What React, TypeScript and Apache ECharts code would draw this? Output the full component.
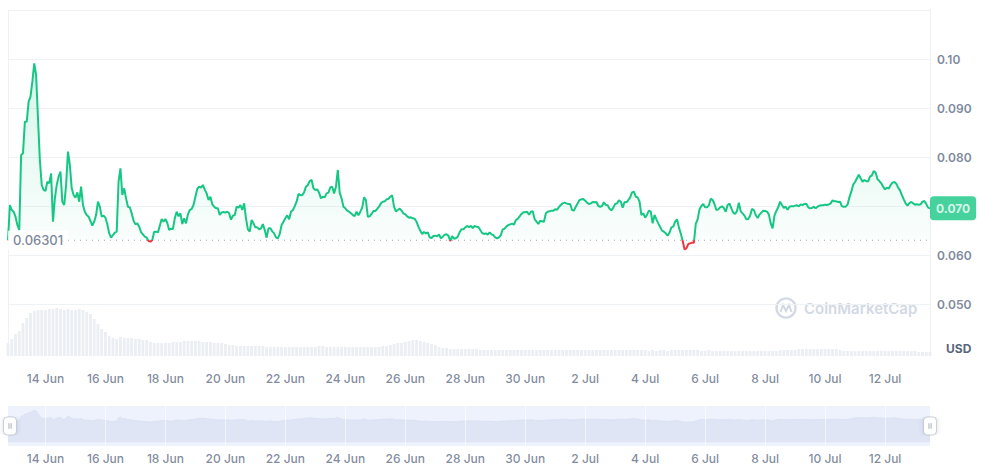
import React, { useEffect, useRef } from "react";
import * as echarts from "echarts";

// ---- data ----
const START = Date.UTC(2023, 5, 12, 18, 0, 0); // 12 Jun 2023 18:00 UTC
const PRICE_STEP = 1.5 * 3600 * 1000; // 90 minutes
const VOLUME_STEP = 3 * 3600 * 1000; // 3 hours
const BASELINE = 0.06301;

const PRICES: number[] = [
  0.06301, 0.0702, 0.06918, 0.06884, 0.06782, 0.06612, 0.0651, 0.08041, 0.08075, 0.08721,
  0.08721, 0.09129, 0.09231, 0.09537, 0.09911, 0.09673, 0.08789, 0.07939, 0.07429, 0.07327,
  0.07307, 0.07497, 0.07463, 0.07667, 0.0668, 0.07156, 0.07429, 0.07599, 0.07701, 0.07088,
  0.0702, 0.07429, 0.08109, 0.07837, 0.07361, 0.07224, 0.0717, 0.07279, 0.07088, 0.07395,
  0.0702, 0.06884, 0.06816, 0.06782, 0.06694, 0.06599, 0.0668, 0.06816, 0.07088, 0.06986,
  0.06782, 0.06802, 0.06762, 0.06626, 0.06442, 0.06354, 0.06408, 0.06456, 0.06476, 0.07497,
  0.07769, 0.07224, 0.07361, 0.07156, 0.06986, 0.06973, 0.0685, 0.06701, 0.06626, 0.06646,
  0.06578, 0.06469, 0.06422, 0.06374, 0.06354, 0.06286, 0.06272, 0.06306, 0.06476, 0.06476,
  0.06462, 0.06599, 0.06734, 0.0668, 0.06734, 0.06653, 0.0651, 0.06537, 0.0653, 0.06748,
  0.06884, 0.06789, 0.0685, 0.06633, 0.06748, 0.06646, 0.0683, 0.06918, 0.06939, 0.0702,
  0.0719, 0.07347, 0.07395, 0.07374, 0.07429, 0.07334, 0.07258, 0.07122, 0.0719, 0.07034,
  0.06986, 0.06952, 0.06952, 0.06816, 0.0687, 0.06877, 0.06864, 0.06884, 0.0685, 0.06721,
  0.06802, 0.06816, 0.06986, 0.06966, 0.0702, 0.06918, 0.07054, 0.06748, 0.06523, 0.06476,
  0.06714, 0.06646, 0.06564, 0.06564, 0.06523, 0.06544, 0.06632, 0.0651, 0.06354, 0.06544,
  0.06544, 0.06483, 0.06442, 0.0636, 0.0634, 0.06429, 0.06612, 0.0668, 0.06748, 0.0681,
  0.06728, 0.06884, 0.06918, 0.06993, 0.07088, 0.07245, 0.07224, 0.07218, 0.07279, 0.07395,
  0.07429, 0.0751, 0.07531, 0.07361, 0.07327, 0.0734, 0.07272, 0.07156, 0.0719, 0.07177,
  0.07258, 0.07272, 0.07381, 0.07395, 0.07258, 0.07395, 0.07735, 0.07272, 0.07156, 0.06986,
  0.06952, 0.06905, 0.06884, 0.0685, 0.06816, 0.06796, 0.06884, 0.0681, 0.06884, 0.06966,
  0.07177, 0.07122, 0.06782, 0.06789, 0.06837, 0.06898, 0.06898, 0.06939, 0.06986, 0.07054,
  0.07088, 0.07095, 0.07136, 0.07143, 0.0719, 0.07218, 0.06986, 0.06891, 0.06918, 0.06946,
  0.06905, 0.0685, 0.0683, 0.06789, 0.06762, 0.06769, 0.06748, 0.06741, 0.0668, 0.06578,
  0.06497, 0.06429, 0.06469, 0.06442, 0.06463, 0.0636, 0.06347, 0.06388, 0.06395, 0.06381,
  0.06422, 0.0634, 0.06374, 0.06415, 0.06422, 0.06395, 0.06285, 0.06388, 0.06333, 0.0634,
  0.06374, 0.06469, 0.06523, 0.06523, 0.06564, 0.06592, 0.06571, 0.06592, 0.06551, 0.06592,
  0.06578, 0.06571, 0.0651, 0.06449, 0.06429, 0.06442, 0.06415, 0.06463, 0.06422, 0.06408,
  0.0636, 0.0634, 0.0636, 0.06408, 0.06523, 0.06537, 0.06585, 0.06612, 0.06626, 0.0664,
  0.06619, 0.06714, 0.06735, 0.06789, 0.06837, 0.06871, 0.06871, 0.06884, 0.06823, 0.06884,
  0.06891, 0.06735, 0.0668, 0.06633, 0.06701, 0.06687, 0.0668, 0.0685, 0.06884, 0.06891,
  0.06905, 0.06905, 0.06932, 0.06925, 0.0698, 0.0702, 0.07054, 0.07068, 0.07054, 0.07041,
  0.07041, 0.06918, 0.06905, 0.06986, 0.07054, 0.07122, 0.07136, 0.07143, 0.07109, 0.07068,
  0.07041, 0.07054, 0.07082, 0.07075, 0.07082, 0.07, 0.06986, 0.07, 0.07075, 0.0702,
  0.07014, 0.06946, 0.06912, 0.06966, 0.07041, 0.07054, 0.07116, 0.07088, 0.06966, 0.07082,
  0.07075, 0.07122, 0.07177, 0.07279, 0.07293, 0.0719, 0.07177, 0.07088, 0.06816, 0.0685,
  0.06762, 0.06823, 0.06905, 0.06884, 0.06646, 0.06816, 0.06728, 0.06646, 0.06571, 0.06497,
  0.06476, 0.06442, 0.06395, 0.06456, 0.06564, 0.06578, 0.0668, 0.06728, 0.06564, 0.06442,
  0.06292, 0.06116, 0.06136, 0.06224, 0.06238, 0.06252, 0.0625, 0.06633, 0.06728, 0.06932,
  0.07, 0.07041, 0.06973, 0.06973, 0.07014, 0.0715, 0.07122, 0.07041, 0.06918, 0.06932,
  0.06973, 0.06993, 0.06959, 0.06884, 0.0702, 0.07048, 0.06952, 0.06864, 0.06837, 0.06898,
  0.07068, 0.06891, 0.0685, 0.06803, 0.06728, 0.06735, 0.06803, 0.06939, 0.06918, 0.06816,
  0.06755, 0.06823, 0.06864, 0.06905, 0.06898, 0.06884, 0.0683, 0.06646, 0.06544, 0.06803,
  0.06898, 0.06973, 0.07088, 0.0702, 0.06959, 0.06986, 0.06925, 0.06986, 0.06993, 0.06993,
  0.07007, 0.07014, 0.06993, 0.07034, 0.0702, 0.07041, 0.07048, 0.06973, 0.06952, 0.06959,
  0.06986, 0.06952, 0.06986, 0.07007, 0.07014, 0.07014, 0.07027, 0.0702, 0.07034, 0.07054,
  0.07116, 0.07095, 0.07095, 0.07082, 0.07088, 0.06993, 0.06986, 0.06986, 0.07027, 0.07177,
  0.07293, 0.07435, 0.0749, 0.07565, 0.07639, 0.07565, 0.07497, 0.07531, 0.07504, 0.07504,
  0.07599, 0.07626, 0.07714, 0.0768, 0.07544, 0.0751, 0.07463, 0.07395, 0.0734, 0.07374,
  0.07354, 0.07429, 0.07476, 0.0749, 0.07456, 0.07374, 0.0732, 0.07224, 0.07136, 0.07054,
  0.07007, 0.07061, 0.07082, 0.07054, 0.07027, 0.07034, 0.07027, 0.07034, 0.07088, 0.07102,
  0.07041, 0.06966, 0.06952,
];

// volume, million USD (one bar per 3 hours)
const VOLUMES: number[] = [
  1.3, 1.7, 2.2, 2.5, 3.3, 3.8, 4.3, 4.5, 4.6, 4.6, 4.6,
  4.7, 4.7, 4.8, 4.7, 4.6, 4.7, 4.6, 4.6, 4.7, 4.6,
  4.4, 4.2, 3.7, 3.2, 2.7, 2.4, 2.0, 1.8, 1.7, 1.9,
  1.8, 1.8, 1.8, 1.7, 1.7, 1.6, 1.6, 1.4, 1.3, 1.3,
  1.3, 1.3, 1.3, 1.4, 1.4, 1.4, 1.5, 1.5, 1.5, 1.5,
  1.5, 1.4, 1.4, 1.4, 1.3, 1.3, 1.3, 1.2, 1.1, 1.1,
  1.0, 1.0, 1.0, 1.0, 1.0, 1.0, 1.0, 1.0, 0.9, 0.9,
  0.9, 0.9, 0.9, 0.9, 0.9, 0.9, 0.9, 0.9, 0.9, 0.9,
  0.9, 0.9, 1.0, 1.0, 0.9, 0.9, 0.9, 0.9, 0.9, 0.9,
  0.9, 0.9, 0.9, 0.9, 0.9, 0.9, 0.9, 0.9, 0.9, 1.0,
  1.0, 1.1, 1.2, 1.3, 1.3, 1.4, 1.5, 1.6, 1.6, 1.5,
  1.4, 1.3, 1.2, 1.1, 0.9, 0.8, 0.8, 0.7, 0.7, 0.7,
  0.7, 0.7, 0.7, 0.7, 0.7, 0.6, 0.6, 0.6, 0.6, 0.6,
  0.6, 0.6, 0.6, 0.6, 0.6, 0.6, 0.6, 0.6, 0.6, 0.6,
  0.6, 0.6, 0.6, 0.6, 0.6, 0.6, 0.6, 0.6, 0.6, 0.6,
  0.6, 0.6, 0.6, 0.6, 0.6, 0.6, 0.6, 0.6, 0.6, 0.6,
  0.6, 0.6, 0.6, 0.6, 0.6, 0.6, 0.6, 0.6, 0.6, 0.6,
  0.5, 0.6, 0.5, 0.6, 0.6, 0.5, 0.6, 0.6, 0.6, 0.6,
  0.6, 0.6, 0.6, 0.6, 0.5, 0.5, 0.6, 0.5, 0.5, 0.5,
  0.5, 0.5, 0.5, 0.5, 0.5, 0.5, 0.5, 0.5, 0.5, 0.5,
  0.5, 0.5, 0.5, 0.5, 0.5, 0.6, 0.6, 0.6, 0.6, 0.6,
  0.7, 0.7, 0.7, 0.7, 0.7, 0.7, 0.7, 0.7, 0.7, 0.7,
  0.7, 0.6, 0.5, 0.5, 0.5, 0.5, 0.5, 0.5, 0.5, 0.5,
  0.5, 0.5, 0.5, 0.5, 0.5, 0.5, 0.5, 0.5, 0.5, 0.5,
  0.5, 0.5, 0.4, 0.4, 0.4, 0.4,
];

const TICK_DATES: string[] = [
  "2023-06-14", "2023-06-16", "2023-06-18", "2023-06-20", "2023-06-22",
  "2023-06-24", "2023-06-26", "2023-06-28", "2023-06-30", "2023-07-02",
  "2023-07-04", "2023-07-06", "2023-07-08", "2023-07-10", "2023-07-12",
];
const PRICE_TICKS = { min: 0.05, max: 0.11, interval: 0.01 };
const VOLUME_RANGE = { min: 0, max: 5.2 };
const NAV_RANGE = { min: -0.012, max: 0.112 };
const MONTHS = ["Jan", "Feb", "Mar", "Apr", "May", "Jun", "Jul", "Aug", "Sep", "Oct", "Nov", "Dec"];

// ---- derived ----
const PRICE_DATA = PRICES.map((p, i) => [START + i * PRICE_STEP, p]);
const VOLUME_DATA = VOLUMES.map((v, i) => [START + i * VOLUME_STEP, v]);
const TICK_VALUES = TICK_DATES.map((d) => Date.parse(d + "T00:00:00Z"));
const X_MIN = START;
const X_MAX = START + (PRICES.length - 1) * PRICE_STEP;
const LAST = PRICES[PRICES.length - 1];

const FONT = "Inter, 'Noto Sans', sans-serif";
const GREEN = "#16c784";
const RED = "#ea3943";
const GRID_LINE = "#eff2f5";

const fmtDate = (v: number) => {
  const d = new Date(v);
  return `${d.getUTCDate()} ${MONTHS[d.getUTCMonth()]}`;
};
// the axis label hidden under the current-price tag is left out
const fmtPrice = (v: number) =>
  v > 0.105 || Math.abs(v - LAST) < 0.003 ? "" : v >= 0.0995 ? v.toFixed(2) : v.toFixed(3);

const HANDLE =
  "path://M4,0H9A4,4,0,0,1,13,4V14A4,4,0,0,1,9,18H4A4,4,0,0,1,0,14V4A4,4,0,0,1,4,0Z" +
  "M5.1,6.5H5.7V11.5H5.1Z M7.3,6.5H7.9V11.5H7.3Z";

export default function App() {
  const ref = useRef<HTMLDivElement>(null);

  useEffect(() => {
    document.body.style.margin = "0";
    const chart = echarts.init(ref.current!, null, { renderer: "svg" });

    const hiddenX = {
      type: "value",
      min: X_MIN,
      max: X_MAX,
      axisLine: { show: false },
      axisTick: { show: false },
      axisLabel: { show: false },
      splitLine: { show: false },
    };
    const dateLabel = (distance: number) => ({
      show: true,
      position: "bottom",
      distance,
      formatter: (p: any) => fmtDate(p.value[0]),
      color: "#616e85",
      fontSize: 12,
      fontFamily: FONT,
      fontWeight: 500,
    });

    const option: any = {
      animation: false,
      title: {
        text: "USD",
        left: 941,
        top: 337,
        textStyle: { fontSize: 12, fontWeight: 700, color: "#58667e", fontFamily: FONT },
      },
      grid: [
        { left: 8, right: 65, top: 10, height: 294 },
        { left: 8, right: 65, top: 304, height: 52 },
        { left: 8, right: 65, top: 406, height: 40, show: true, backgroundColor: "#eef2fc", borderWidth: 0 },
      ],
      xAxis: [
        { ...hiddenX, gridIndex: 0 },
        { ...hiddenX, gridIndex: 1 },
        { ...hiddenX, gridIndex: 2 },
      ],
      yAxis: [
        {
          type: "value",
          gridIndex: 0,
          position: "right",
          ...PRICE_TICKS,
          axisLine: { show: true, lineStyle: { color: GRID_LINE } },
          axisTick: { show: false },
          splitLine: { show: true, lineStyle: { color: GRID_LINE } },
          axisLabel: { formatter: fmtPrice, color: "#808a9d", fontSize: 12, fontWeight: 600, fontFamily: FONT, margin: 7 },
        },
        {
          type: "value",
          gridIndex: 0,
          position: "left",
          ...PRICE_TICKS,
          axisLine: { show: true, lineStyle: { color: GRID_LINE } },
          axisTick: { show: false },
          axisLabel: { show: false },
          splitLine: { show: false },
        },
        {
          type: "value",
          gridIndex: 1,
          position: "right",
          ...VOLUME_RANGE,
          axisLine: { show: true, lineStyle: { color: GRID_LINE } },
          axisTick: { show: false },
          axisLabel: { show: false },
          splitLine: { show: false },
        },
        {
          type: "value",
          gridIndex: 1,
          position: "left",
          ...VOLUME_RANGE,
          axisLine: { show: true, lineStyle: { color: GRID_LINE } },
          axisTick: { show: false },
          axisLabel: { show: false },
          splitLine: { show: false },
        },
        { type: "value", gridIndex: 2, ...NAV_RANGE, show: false },
      ],
      visualMap: {
        type: "piecewise",
        show: false,
        seriesIndex: 0,
        dimension: 1,
        pieces: [
          { gte: 0, lt: BASELINE, color: RED },
          { gte: BASELINE, lte: 1, color: GREEN },
        ],
      },
      series: [
        {
          type: "line",
          xAxisIndex: 0,
          yAxisIndex: 0,
          data: PRICE_DATA,
          symbol: "none",
          lineStyle: { width: 2 },
          areaStyle: {
            origin: BASELINE,
            color: new echarts.graphic.LinearGradient(0, 0, 0, 1, [
              { offset: 0, color: "rgba(22,199,132,0.24)" },
              { offset: 1, color: "rgba(22,199,132,0.02)" },
            ]),
          },
          z: 3,
        },
        {
          // dotted reference line at the opening price
          type: "line",
          xAxisIndex: 0,
          yAxisIndex: 0,
          data: [
            [X_MIN, BASELINE],
            [X_MAX, BASELINE],
          ],
          symbol: "none",
          silent: true,
          lineStyle: { color: "#a1a7bb", type: [1, 5], width: 1 },
          z: 2,
        },
        {
          // baseline value label (left) and current price tag (right)
          type: "scatter",
          xAxisIndex: 0,
          yAxisIndex: 0,
          symbolSize: 0,
          clip: false,
          silent: true,
          z: 6,
          data: [
            {
              value: [X_MIN, BASELINE],
              label: {
                show: true,
                position: "right",
                distance: 0,
                formatter: BASELINE.toFixed(5),
                backgroundColor: "#fff",
                padding: [3, 5, 3, 5],
                color: "#58667e",
                fontSize: 13,
                fontWeight: 500,
                fontFamily: FONT,
              },
            },
            {
              value: [X_MAX, LAST],
              label: {
                show: true,
                position: "right",
                distance: 0,
                formatter: LAST.toFixed(3),
                backgroundColor: GREEN,
                borderRadius: 4,
                padding: [6, 6, 6, 6],
                color: "#fff",
                fontSize: 12,
                fontWeight: 700,
                fontFamily: FONT,
              },
            },
          ],
        },
        {
          type: "bar",
          xAxisIndex: 1,
          yAxisIndex: 2,
          data: VOLUME_DATA,
          barWidth: 2.8,
          itemStyle: { color: "#ebeef3" },
          silent: true,
        },
        {
          // date labels under the volume pane
          type: "scatter",
          xAxisIndex: 1,
          yAxisIndex: 2,
          symbolSize: 0,
          clip: false,
          silent: true,
          data: TICK_VALUES.map((t) => [t, VOLUME_RANGE.min]),
          label: dateLabel(16),
        },
        {
          type: "line",
          xAxisIndex: 2,
          yAxisIndex: 4,
          data: PRICE_DATA,
          symbol: "none",
          lineStyle: { width: 0.8, color: "#d9e0f2" },
          areaStyle: { color: "#dfe5f5", opacity: 1 },
          silent: true,
          markLine: {
            silent: true,
            symbol: "none",
            label: { show: false },
            lineStyle: { color: "rgba(255,255,255,0.6)", type: "solid", width: 1 },
            data: TICK_VALUES.map((t) => ({ xAxis: t })),
          },
        },
        {
          // date labels under the navigator
          type: "scatter",
          xAxisIndex: 2,
          yAxisIndex: 4,
          symbolSize: 0,
          clip: false,
          silent: true,
          data: TICK_VALUES.map((t) => [t, NAV_RANGE.min]),
          label: dateLabel(6),
        },
      ],
      dataZoom: [
        {
          type: "slider",
          xAxisIndex: 2,
          start: 0,
          end: 100,
          left: 8,
          right: 65,
          top: 406,
          height: 40,
          filterMode: "none",
          showDataShadow: false,
          showDetail: false,
          brushSelect: false,
          backgroundColor: "rgba(0,0,0,0)",
          borderColor: "rgba(0,0,0,0)",
          fillerColor: "rgba(0,0,0,0)",
          moveHandleSize: 0,
          handleIcon: HANDLE,
          handleSize: "45%",
          handleStyle: {
            color: "#fff",
            borderColor: "#aeb5c2",
            borderWidth: 0.6,
            shadowBlur: 4,
            shadowColor: "rgba(88,102,126,0.25)",
          },
        },
      ],
      graphic: [
        {
          type: "circle",
          silent: true,
          shape: { cx: 786, cy: 308, r: 9.5 },
          style: { fill: "none", stroke: "#d3d9e4", lineWidth: 2.4 },
        },
        {
          type: "polyline",
          silent: true,
          shape: { points: [[780.5, 312], [783, 305], [786, 311], [789, 305], [791.5, 312]] },
          style: { fill: "none", stroke: "#d3d9e4", lineWidth: 2 },
        },
        {
          type: "text",
          silent: true,
          x: 804,
          y: 308,
          style: {
            text: "CoinMarketCap",
            fontSize: 15,
            fontWeight: 600,
            fontFamily: FONT,
            fill: "#d3d9e4",
            verticalAlign: "middle",
          },
        },
      ],
    };

    chart.setOption(option);
    return () => chart.dispose();
  }, []);

  return <div ref={ref} style={{ width: 995, height: 470 }} />;
}
